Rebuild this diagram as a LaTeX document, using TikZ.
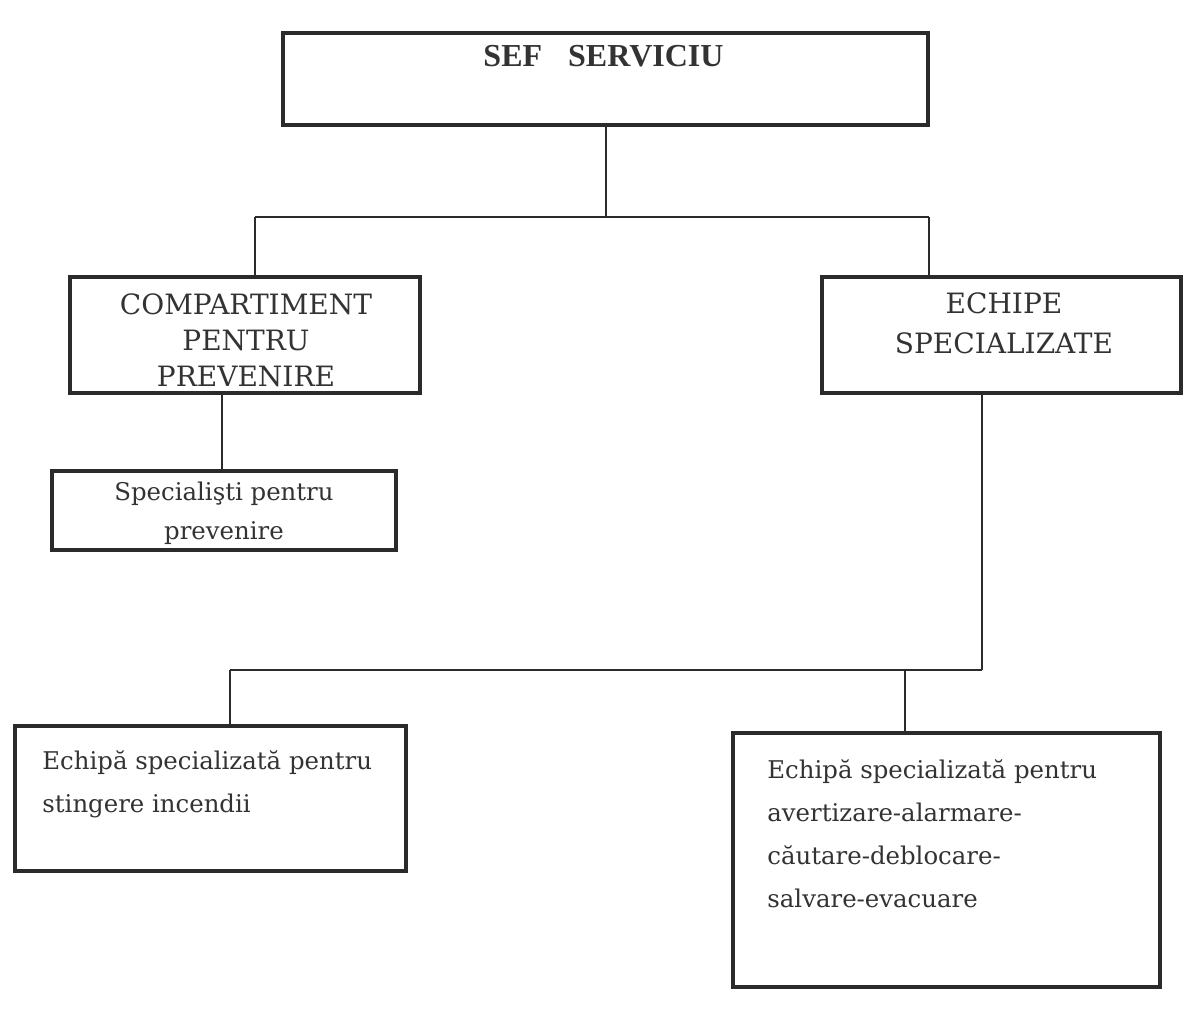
\documentclass[tikz,border=0pt]{standalone}
\usepackage{fontspec}
\setmainfont{DejaVu Serif}
\newfontfamily\titlefont{Liberation Serif}
\usetikzlibrary{calc}
\definecolor{ink}{HTML}{2B2B2B}
\definecolor{txt}{HTML}{333333}
\tikzset{
  orgbox/.style={draw=ink, line width=2.2pt, inner sep=0pt, fill=white},
  conn/.style={draw=ink, line width=1pt},
  lab/.style={text=txt, inner sep=0pt, anchor=base},
  capsfont/.style={font=\fontsize{14}{18}\selectfont},
  capsfontb/.style={font=\fontsize{14}{20}\selectfont},
  bodyfont/.style={font=\fontsize{12.2}{20}\selectfont},
  bodyfontb/.style={font=\fontsize{12.2}{21.5}\selectfont},
}
\begin{document}
\begin{tikzpicture}[x=0.5pt,y=-0.5pt]
\useasboundingbox[fill=white] (0,0) rectangle (1184,1026);

% boxes
\node[orgbox, minimum width=322.5pt, minimum height=46pt] (sef) at (605.5,79) {};
\node[orgbox, minimum width=175pt, minimum height=58pt] (comp) at (245,335) {};
\node[orgbox, minimum width=172pt, minimum height=39.5pt] (spec) at (224,510.5) {};
\node[orgbox, minimum width=179.5pt, minimum height=58pt] (ech) at (1001.5,335) {};
\node[orgbox, minimum width=195.5pt, minimum height=72.5pt] (bl) at (210.5,798.5) {};
\node[orgbox, minimum width=213.5pt, minimum height=127pt] (br) at (946.5,860) {};

% texts (anchor base = baseline of the last line)
\node[lab, font=\titlefont\bfseries\fontsize{16}{18}\selectfont] (sefT) at (603.5,67) {SEF\hspace{13pt}SERVICIU};
\node[lab, capsfont, align=center] (compT) at (246,387) {COMPARTIMENT\\PENTRU\\PREVENIRE};
\node[lab, bodyfont, align=center] (specT) at (224,540) {Specialişti pentru\\prevenire};
\node[lab, capsfontb, align=center] (echT) at (1004,354) {ECHIPE\\SPECIALIZATE};
\node[lab, bodyfontb, align=left, anchor=base west] (blT) at (42,812) {Echipă specializată pentru\\stingere incendii};
\node[lab, bodyfontb, align=left, anchor=base west] (brT) at (767,907) {Echipă specializată pentru\\avertizare-alarmare-\\căutare-deblocare-\\salvare-evacuare};

% bus coordinates
\coordinate (busA) at (605.5,217);
\coordinate (busAl) at (255,217);
\coordinate (busAr) at (929,217);
\coordinate (busB) at (982,670);
\coordinate (busBl) at (230,670);
\coordinate (busBr) at (905,670);
\coordinate (compOut) at (222,393);
\coordinate (echOut) at (982,393);

% connectors
\draw[conn] (sef.south) -- (busA);
\draw[conn] (busAl) -- (busAr);
\draw[conn] (busAl) -- (busAl |- comp.north);
\draw[conn] (busAr) -- (busAr |- ech.north);
\draw[conn] (compOut |- comp.south) -- (compOut |- spec.north);
\draw[conn] (echOut |- ech.south) -- (busB);
\draw[conn] (busBl) -- (busB);
\draw[conn] (busBl) -- (busBl |- bl.north);
\draw[conn] (busBr) -- (busBr |- br.north);
\end{tikzpicture}
\end{document}
